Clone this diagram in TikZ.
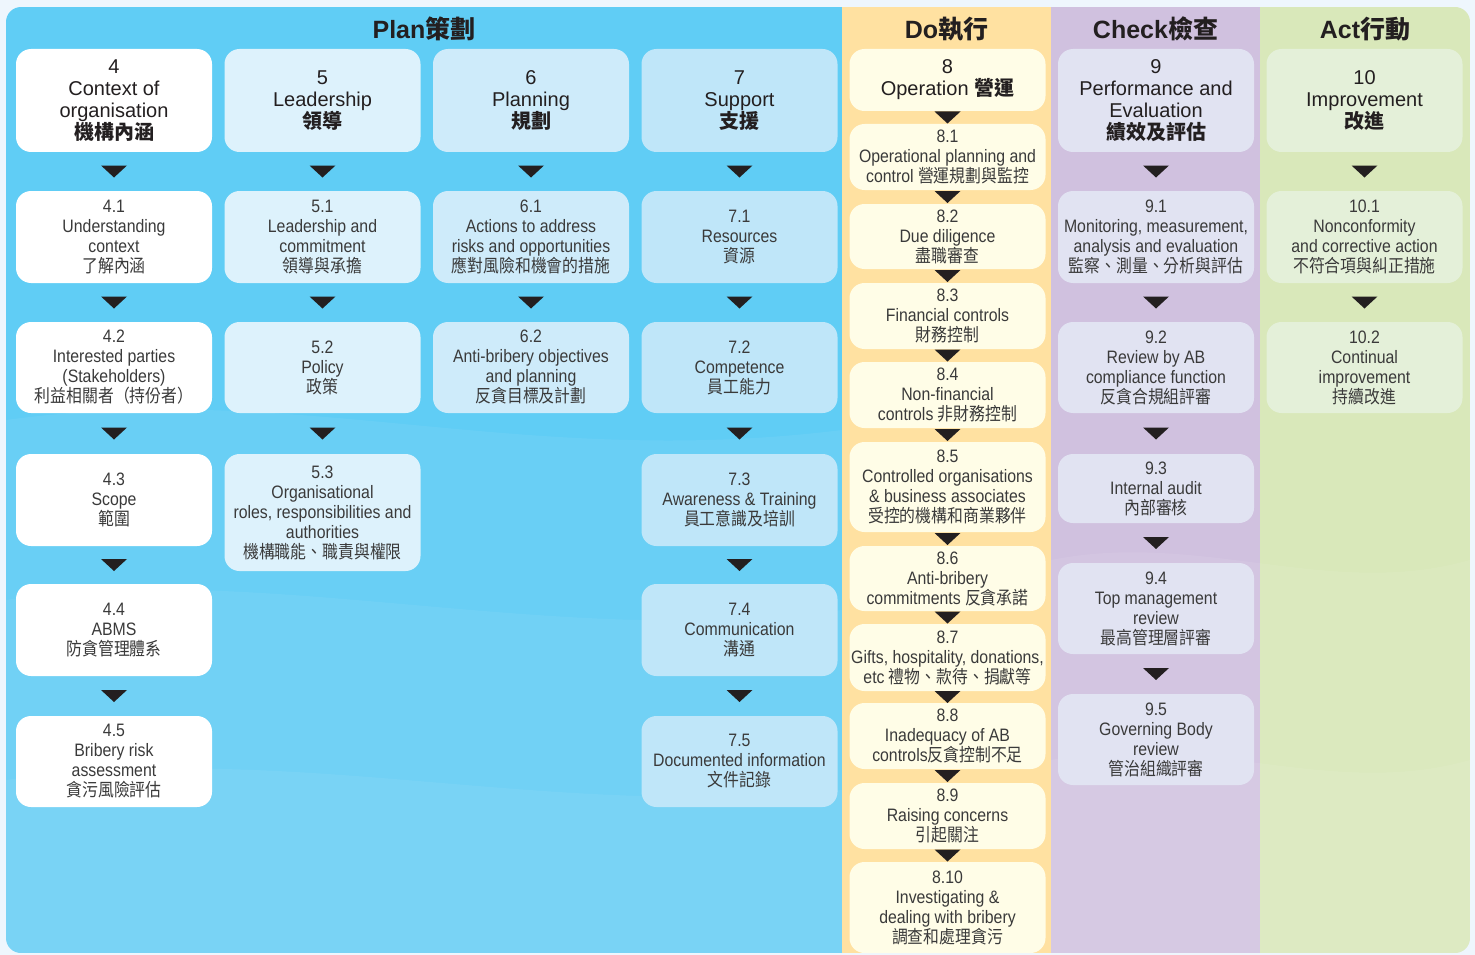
\documentclass[tikz,border=0pt]{standalone}
\usepackage{fontspec}
\setmainfont{Liberation Sans}
\newfontfamily\narrowfont[FakeStretch=0.88]{Liberation Sans}
\newfontfamily\cjkfont{Noto Sans CJK TC}
\newfontfamily\cjknarrow[FakeStretch=0.88]{Noto Sans CJK TC}
\usetikzlibrary{calc}

\definecolor{bgpage}{HTML}{EEF6FD}
\definecolor{plancol}{HTML}{60CDF5}
\definecolor{docol}{HTML}{FFE1A1}
\definecolor{checkcol}{HTML}{D0C1DF}
\definecolor{actcol}{HTML}{D9E8BA}
\definecolor{fillfour}{HTML}{FFFFFF}
\definecolor{fillfive}{HTML}{DDF2FC}
\definecolor{fillsix}{HTML}{CEEBFA}
\definecolor{fillseven}{HTML}{BFE6F9}
\definecolor{filldo}{HTML}{FFFDE7}
\definecolor{fillcheck}{HTML}{E1E3F2}
\definecolor{fillact}{HTML}{E4F0D9}
\definecolor{inkdark}{HTML}{231F20}
\definecolor{inksub}{HTML}{3A3A3A}

\newcommand{\zh}[1]{{\cjkfont\bfseries #1}}
\newcommand{\zs}[1]{{\cjknarrow #1}}

\tikzset{
	panelhead/.style={text=inkdark, inner sep=0, font=\fontsize{25}{28}\selectfont\bfseries},
	mainbox/.style={rounded corners=15, minimum width=196, inner sep=1, align=center,
		text=inkdark, font=\fontsize{20}{22}\selectfont},
	subbox/.style={rounded corners=15, minimum width=196, inner sep=1, align=center,
		text=inksub, font=\narrowfont\fontsize{18}{20}\selectfont},
	tipfill/.style={fill=inkdark},
}

% black wedge halfway between two boxes
\newcommand{\tip}[2]{\fill[tipfill] ($(#1.south)!0.5!(#2.north)$) ++(-13,-6) -- ++(26,0) -- ++(-13,12) -- cycle;}

\begin{document}
\begin{tikzpicture}[x=1pt,y=-1pt]
		\useasboundingbox (0,0) rectangle (1475,955);
		\fill[bgpage] (0,0) rectangle (1475,955);

		% columns
		\begin{scope}
			\clip[rounded corners=15] (6,7) rectangle (1470,953);
			\fill[plancol] (6,7) rectangle (842,953);
			\fill[docol] (842,7) rectangle (1051,953);
			\fill[checkcol] (1051,7) rectangle (1260,953);
			\fill[actcol] (1260,7) rectangle (1470,953);
			\fill[white,opacity=0.06] (6,420) .. controls (300,380) and (520,470) .. (842,430) -- (842,953) -- (6,953) -- cycle;
			\fill[white,opacity=0.06] (6,600) .. controls (260,560) and (560,650) .. (842,610) -- (842,953) -- (6,953) -- cycle;
			\fill[white,opacity=0.06] (6,780) .. controls (300,740) and (540,820) .. (842,790) -- (842,953) -- (6,953) -- cycle;
			\fill[white,opacity=0.07] (1051,560) .. controls (1200,530) and (1330,600) .. (1470,560) -- (1470,953) -- (1051,953) -- cycle;
			\fill[white,opacity=0.07] (1051,760) .. controls (1200,730) and (1330,800) .. (1470,760) -- (1470,953) -- (1051,953) -- cycle;
		\end{scope}

		\node[panelhead] (hplan) at (424,29) {Plan\zh{策劃}};
		\node[panelhead] (hdo) at (946.5,29) {Do\zh{執行}};
		\node[panelhead] (hcheck) at (1155.5,29) {Check\zh{檢查}};
		\node[panelhead] (hact) at (1365,29) {Act\zh{行動}};

		% Plan
		\node[mainbox,fill=fillfour,minimum height=103] (s4) at (114,100.5) {4\\Context of\\organisation\\\zh{機構內涵}};
		\node[subbox,fill=fillfour,minimum height=92] (s41) at (114,237) {4.1\\Understanding\\context\\\zs{了解內涵}};
		\node[subbox,fill=fillfour,minimum height=91] (s42) at (114,367.5) {4.2\\Interested parties\\(Stakeholders)\\\zs{利益相關者（持份者）}};
		\node[subbox,fill=fillfour,minimum height=92] (s43) at (114,500) {4.3\\Scope\\\zs{範圍}};
		\node[subbox,fill=fillfour,minimum height=92] (s44) at (114,630) {4.4\\ABMS\\\zs{防貪管理體系}};
		\node[subbox,fill=fillfour,minimum height=91] (s45) at (114,761.5) {4.5\\Bribery risk\\assessment\\\zs{貪污風險評估}};

		\node[mainbox,fill=fillfive,minimum height=103] (s5) at (322.5,100.5) {5\\Leadership\\\zh{領導}};
		\node[subbox,fill=fillfive,minimum height=92] (s51) at (322.5,237) {5.1\\Leadership and\\commitment\\\zs{領導與承擔}};
		\node[subbox,fill=fillfive,minimum height=91] (s52) at (322.5,367.5) {5.2\\Policy\\\zs{政策}};
		\node[subbox,fill=fillfive,minimum height=117] (s53) at (322.5,512.5) {5.3\\Organisational\\roles, responsibilities and\\authorities\\\zs{機構職能、職責與權限}};

		\node[mainbox,fill=fillsix,minimum height=103] (s6) at (531,100.5) {6\\Planning\\\zh{規劃}};
		\node[subbox,fill=fillsix,minimum height=92] (s61) at (531,237) {6.1\\Actions to address\\risks and opportunities\\\zs{應對風險和機會的措施}};
		\node[subbox,fill=fillsix,minimum height=91] (s62) at (531,367.5) {6.2\\Anti-bribery objectives\\and planning\\\zs{反貪目標及計劃}};

		\node[mainbox,fill=fillseven,minimum height=103] (s7) at (739.5,100.5) {7\\Support\\\zh{支援}};
		\node[subbox,fill=fillseven,minimum height=92] (s71) at (739.5,237) {7.1\\Resources\\\zs{資源}};
		\node[subbox,fill=fillseven,minimum height=91] (s72) at (739.5,367.5) {7.2\\Competence\\\zs{員工能力}};
		\node[subbox,fill=fillseven,minimum height=92] (s73) at (739.5,500) {7.3\\Awareness \& Training\\\zs{員工意識及培訓}};
		\node[subbox,fill=fillseven,minimum height=92] (s74) at (739.5,630) {7.4\\Communication\\\zs{溝通}};
		\node[subbox,fill=fillseven,minimum height=91] (s75) at (739.5,761.5) {7.5\\Documented information\\\zs{文件記錄}};

		% Do
		\node[mainbox,fill=filldo,minimum height=62] (s8) at (947.5,80) {8\\Operation \zh{營運}};
		\node[subbox,fill=filldo,minimum height=66] (s81) at (947.5,157) {8.1\\Operational planning and\\control \zs{營運規劃與監控}};
		\node[subbox,fill=filldo,minimum height=65] (s82) at (947.5,236.5) {8.2\\Due diligence\\\zs{盡職審查}};
		\node[subbox,fill=filldo,minimum height=66] (s83) at (947.5,316) {8.3\\Financial controls\\\zs{財務控制}};
		\node[subbox,fill=filldo,minimum height=66] (s84) at (947.5,395) {8.4\\Non-financial\\controls \zs{非財務控制}};
		\node[subbox,fill=filldo,minimum height=90] (s85) at (947.5,487) {8.5\\Controlled organisations\\\& business associates\\\zs{受控的機構和商業夥伴}};
		\node[subbox,fill=filldo,minimum height=65] (s86) at (947.5,578.5) {8.6\\Anti-bribery\\commitments \zs{反貪承諾}};
		\node[subbox,fill=filldo,minimum height=67] (s87) at (947.5,657.5) {8.7\\Gifts, hospitality, donations,\\etc \zs{禮物、款待、捐獻等}};
		\node[subbox,fill=filldo,minimum height=66] (s88) at (947.5,736) {8.8\\Inadequacy of AB\\controls\zs{反貪控制不足}};
		\node[subbox,fill=filldo,minimum height=66] (s89) at (947.5,816) {8.9\\Raising concerns\\\zs{引起關注}};
		\node[subbox,fill=filldo,minimum height=91] (s810) at (947.5,907.5) {8.10\\Investigating \&\\dealing with bribery\\\zs{調查和處理貪污}};

		% Check
		\node[mainbox,fill=fillcheck,minimum height=103] (s9) at (1156,100.5) {9\\Performance and\\Evaluation\\\zh{績效及評估}};
		\node[subbox,fill=fillcheck,minimum height=92] (s91) at (1156,237) {9.1\\Monitoring, measurement,\\analysis and evaluation\\\zs{監察、測量、分析與評估}};
		\node[subbox,fill=fillcheck,minimum height=91] (s92) at (1156,367.5) {9.2\\Review by AB\\compliance function\\\zs{反貪合規組評審}};
		\node[subbox,fill=fillcheck,minimum height=69] (s93) at (1156,488.5) {9.3\\Internal audit\\\zs{內部審核}};
		\node[subbox,fill=fillcheck,minimum height=91] (s94) at (1156,608.5) {9.4\\Top management\\review\\\zs{最高管理層評審}};
		\node[subbox,fill=fillcheck,minimum height=91] (s95) at (1156,739.5) {9.5\\Governing Body\\review\\\zs{管治組織評審}};

		% Act
		\node[mainbox,fill=fillact,minimum height=103] (s10) at (1364.5,100.5) {10\\Improvement\\\zh{改進}};
		\node[subbox,fill=fillact,minimum height=92] (s101) at (1364.5,237) {10.1\\Nonconformity\\and corrective action\\\zs{不符合項與糾正措施}};
		\node[subbox,fill=fillact,minimum height=91] (s102) at (1364.5,367.5) {10.2\\Continual\\improvement\\\zs{持續改進}};

		% wedges
		\tip{s4}{s41} \tip{s41}{s42} \tip{s42}{s43} \tip{s43}{s44} \tip{s44}{s45}
		\tip{s5}{s51} \tip{s51}{s52} \tip{s52}{s53}
		\tip{s6}{s61} \tip{s61}{s62}
		\tip{s7}{s71} \tip{s71}{s72} \tip{s72}{s73} \tip{s73}{s74} \tip{s74}{s75}
		\tip{s8}{s81} \tip{s81}{s82} \tip{s82}{s83} \tip{s83}{s84} \tip{s84}{s85}
		\tip{s85}{s86} \tip{s86}{s87} \tip{s87}{s88} \tip{s88}{s89} \tip{s89}{s810}
		\tip{s9}{s91} \tip{s91}{s92} \tip{s92}{s93} \tip{s93}{s94} \tip{s94}{s95}
		\tip{s10}{s101} \tip{s101}{s102}
\end{tikzpicture}
\end{document}
